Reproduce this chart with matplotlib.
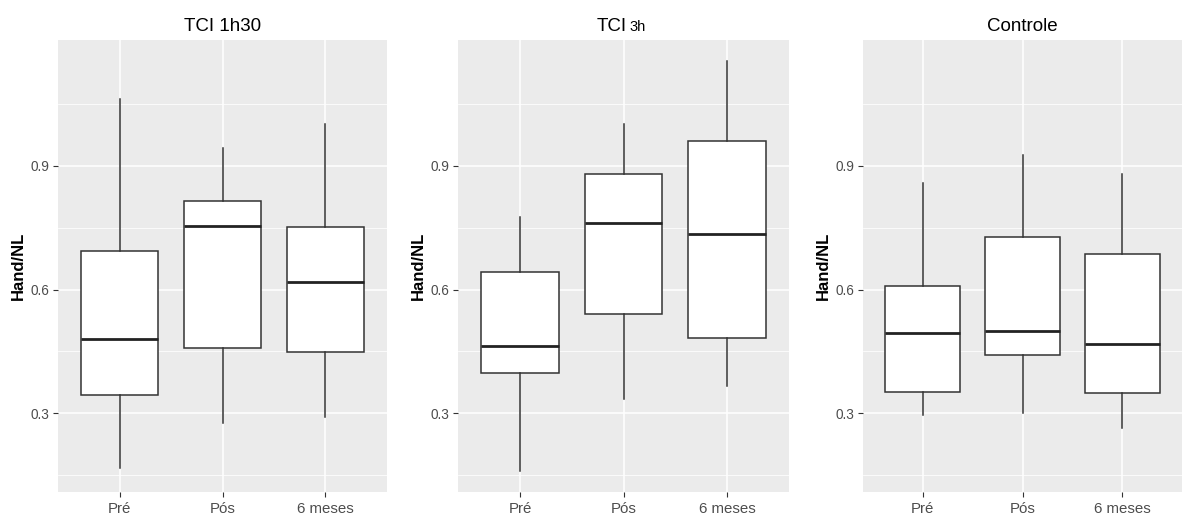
import matplotlib
matplotlib.use("Agg")
import matplotlib.pyplot as plt
import matplotlib.transforms as mtransforms

plt.rcParams["font.family"] = ["Liberation Sans", "DejaVu Sans"]

groups = ["Pré", "Pós", "6 meses"]
panel_titles = ["TCI 1h30", "TCI 3h", "Controle"]

# five-number summaries per panel: lower whisker, Q1, median, Q3, upper whisker
tci130_low = [0.166, 0.277, 0.291]
tci130_q1 = [0.344, 0.457, 0.449]
tci130_med = [0.479, 0.753, 0.618]
tci130_q3 = [0.693, 0.814, 0.751]
tci130_high = [1.062, 0.944, 1.002]

tci3_low = [0.159, 0.334, 0.367]
tci3_q1 = [0.398, 0.540, 0.483]
tci3_med = [0.462, 0.761, 0.734]
tci3_q3 = [0.643, 0.880, 0.961]
tci3_high = [0.777, 1.001, 1.155]

ctrl_low = [0.296, 0.301, 0.264]
ctrl_q1 = [0.352, 0.441, 0.350]
ctrl_med = [0.494, 0.499, 0.469]
ctrl_q3 = [0.609, 0.727, 0.685]
ctrl_high = [0.858, 0.927, 0.881]

panels = [
    (tci130_low, tci130_q1, tci130_med, tci130_q3, tci130_high),
    (tci3_low, tci3_q1, tci3_med, tci3_q3, tci3_high),
    (ctrl_low, ctrl_q1, ctrl_med, ctrl_q3, ctrl_high),
]

W, H = 1191, 516
fig = plt.figure(figsize=(W / 100, H / 100), dpi=100)
fig.patch.set_facecolor("white")

# panel extents in pixels (left, right); all share top/bottom
extents = [(58, 387), (458, 789), (863, 1182)]
top_px, bottom_px = 40, 492

line_col = "#333333"
for i, ((x0, x1), stats_arr) in enumerate(zip(extents, panels)):
    ax = fig.add_axes([x0 / W, (H - bottom_px) / H, (x1 - x0) / W, (bottom_px - top_px) / H])
    ax.set_facecolor("#EBEBEB")
    for s in ax.spines.values():
        s.set_visible(False)

    lo, q1, med, q3, hi = stats_arr
    stats = [dict(whislo=lo[k], q1=q1[k], med=med[k], q3=q3[k], whishi=hi[k], fliers=[])
             for k in range(len(groups))]
    ax.bxp(stats, positions=[1, 2, 3], widths=0.75, patch_artist=True, showcaps=False,
           boxprops=dict(facecolor="white", edgecolor=line_col, linewidth=1.1),
           whiskerprops=dict(color=line_col, linewidth=1.1),
           medianprops=dict(color="#222222", linewidth=2.0),
           zorder=3)

    ax.set_xlim(0.4, 3.6)
    ax.set_ylim(0.109, 1.205)
    ax.set_xticks([1, 2, 3])
    ax.set_xticklabels(groups)
    ax.set_yticks([0.3, 0.6, 0.9])
    ax.set_yticklabels(["0.3", "0.6", "0.9"])
    ax.set_yticks([0.15, 0.45, 0.75, 1.05], minor=True)
    ax.grid(True, which="major", color="white", linewidth=1.1, zorder=0)
    ax.grid(True, which="minor", axis="y", color="white", linewidth=0.55, zorder=0)
    ax.set_axisbelow(True)
    ax.tick_params(which="major", length=3.5, width=0.8, color=line_col,
                   labelcolor="#4D4D4D", pad=2.5)
    ax.tick_params(axis="y", labelsize=9.8)
    ax.tick_params(axis="x", labelsize=10.8, pad=3.5)
    ax.tick_params(which="minor", length=0)

    ax.set_ylabel("Hand/NL", fontsize=12, fontweight="bold", color="black")
    ax.yaxis.set_label_coords(-32 / (x1 - x0), 0.5)

    if i == 1:
        # title with a smaller suffix
        base = ax.transAxes
        t1 = mtransforms.offset_copy(base, fig=fig, x=3, y=9, units="dots")
        t2 = mtransforms.offset_copy(base, fig=fig, x=6, y=9, units="dots")
        ax.text(0.5, 1.0, "TCI", transform=t1, ha="right", va="baseline", fontsize=13.5)
        ax.text(0.5, 1.0, "3h", transform=t2, ha="left", va="baseline", fontsize=10.5)
    else:
        ax.set_title(panel_titles[i], fontsize=13.5, pad=6.5)

fig.savefig("out.png", dpi=100)
